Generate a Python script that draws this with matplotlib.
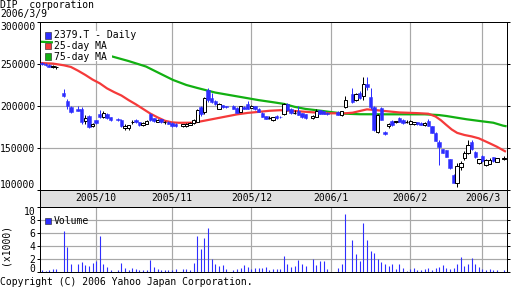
import matplotlib
matplotlib.use('Agg')
import matplotlib.pyplot as plt
from matplotlib.patches import Rectangle

# ---------------- data ----------------
title = 'DIP  corporation'
date_str = '2006/3/9'
ticker_label = '2379.T - Daily'

days = [0, 1, 2, 3, 4, 6, 7, 8, 10, 11, 12, 13, 14, 15, 16, 17, 18, 19, 21, 22, 23, 24, 25, 26, 27, 28,
        29, 30, 31, 32, 33, 34, 35, 36, 37, 39, 40, 41, 42, 43, 44, 45, 46, 47, 48, 49, 50, 51, 53, 54,
        55, 56, 57, 58, 59, 60, 61, 62, 63, 64, 65, 66, 67, 68, 69, 70, 71, 72, 73, 75, 76, 77, 78, 79,
        82, 83, 84, 86, 87, 88, 89, 90, 91, 92, 93, 94, 95, 96, 97, 98, 99, 100, 101, 102, 103, 104,
        105, 106, 107, 108, 109, 110, 111, 112, 113, 114, 115, 116, 117, 118, 119, 120, 121, 122, 123,
        124, 125, 126, 128]
opens = [251000, 250500, 248500, 246500, 246000, 215800, 206500, 199000, 196500, 196000, 182000, 188000,
         176000, 183000, 191000, 187500, 191000, 187000, 185000, 183500, 174000, 174000, 181000, 183500,
         181000, 177500, 178500, 190000, 185500, 181500, 184000, 181000, 181500, 180000, 179000, 176500,
         176500, 177500, 180000, 181500, 199000, 193000, 218500, 209000, 206000, 196500, 201000, 199500,
         200500, 197500, 193000, 198500, 202000, 198000, 199500, 197000, 192000, 187500, 186000, 183000,
         188000, 187500, 190000, 202500, 197000, 192000, 194500, 191500, 190000, 185500, 187000, 195000,
         193500, 192000, 193000, 189000, 199000, 214300, 207000, 216000, 211900, 226200, 211100, 199200,
         168600, 197200, 169400, 176200, 182200, 181000, 185300, 183300, 181400, 178600, 178000, 181000,
         180000, 177000, 182500, 176200, 168000, 157500, 148500, 147600, 136500, 117900, 108700, 127800,
         137700, 143600, 157500, 145600, 131700, 140900, 129800, 131000, 139000, 133800, 137500]
highs = [252500, 251500, 249500, 248500, 247500, 219800, 208000, 199500, 200000, 199200, 189300, 189300,
         180000, 183500, 195200, 194000, 192000, 187500, 185500, 184500, 179000, 177500, 183000, 184000,
         181500, 181000, 183000, 191500, 186000, 184500, 184500, 182500, 182000, 180500, 179500, 179000,
         180000, 181000, 184000, 197000, 200500, 211000, 221500, 215000, 207500, 203000, 201500, 200000,
         201500, 198500, 200500, 199500, 206000, 201500, 200500, 197500, 192500, 188000, 188000, 187500,
         189000, 188500, 203500, 204000, 197500, 195000, 200000, 192000, 190500, 189000, 197000, 195500,
         194000, 192500, 193500, 194500, 212000, 222000, 215000, 217500, 234900, 234900, 221000, 200000,
         190500, 199000, 170000, 180000, 183500, 182500, 187300, 184000, 183000, 183000, 181500, 181500,
         180500, 180500, 184000, 176500, 168500, 159000, 149000, 148000, 137000, 118500, 131700, 134000,
         146000, 159000, 160000, 146500, 137500, 141500, 136500, 137700, 139500, 138500, 140500]
lows = [249000, 248000, 246500, 245500, 243500, 210300, 196000, 191700, 193500, 178200, 178000, 174000,
        174800, 178200, 186000, 186000, 184000, 182000, 182000, 175000, 171500, 172000, 179000, 180000,
        176000, 176500, 178000, 182000, 181500, 180500, 180000, 179000, 178000, 175500, 175500, 175500,
        175500, 177000, 179000, 180500, 188000, 191000, 205000, 204000, 201500, 196000, 198000, 198000,
        196500, 191500, 192500, 196000, 196500, 197500, 195500, 192500, 187000, 184000, 184500, 182000,
        185000, 186000, 189000, 194000, 191000, 190500, 189000, 186000, 185000, 184500, 186500, 190500,
        190000, 189500, 189000, 188500, 197500, 204000, 206000, 208500, 207000, 219000, 197000, 170500,
        167500, 183000, 166000, 174000, 176500, 180000, 180500, 179000, 180000, 178000, 177500, 177500,
        177000, 176500, 176000, 167500, 158000, 129800, 144000, 139000, 125000, 107900, 104000, 124000,
        136000, 143000, 147500, 138000, 131000, 133500, 128000, 130500, 133500, 133000, 136000]
closes = [249500, 248500, 247000, 247500, 247000, 212300, 199500, 193000, 194500, 181500, 185500, 175000,
          179000, 179500, 187500, 192000, 186000, 183500, 183000, 176500, 176500, 177000, 181500, 180500,
          177000, 180000, 182000, 183500, 182500, 183500, 181000, 181000, 179000, 176500, 176500, 178500,
          179000, 180000, 183000, 195000, 190000, 209500, 207000, 205000, 202500, 202000, 198500, 198500,
          197000, 192000, 199500, 196500, 197000, 199500, 196000, 193000, 187500, 184500, 186000, 187000,
          185500, 186500, 202500, 195000, 191500, 192000, 189500, 186500, 185500, 188500, 193500, 191000,
          190500, 190000, 189500, 194000, 207000, 205200, 214000, 209000, 226200, 222200, 198400, 171400,
          189300, 183300, 166700, 178200, 177000, 182000, 181350, 179400, 181400, 182200, 181000, 178000,
          177500, 180000, 176500, 168000, 158700, 151600, 144500, 139700, 125800, 108700, 128600, 132500,
          143600, 153600, 148400, 138900, 136500, 134900, 135700, 136000, 134500, 137700, 138000]

vol_days = list(range(129))
vol_vals = [0.26, 0.15, 0.3, 0.5, 0.5, 0, 6.3, 3.9, 1.2, 0, 1.2, 1.5, 1.05, 0.9, 1.4, 1.7, 5.5, 1.2, 0.8, 0.26,
            0, 0.26, 1.4, 0.6, 0.37, 0.6, 0.5, 0.3, 0.3, 0.3, 1.8, 0.8, 0.5, 0.26, 0.26, 0.3, 0.3, 0.5, 0, 0.5,
            0.5, 0.26, 1.4, 5.6, 3.5, 5.2, 6.7, 2.05, 1.2, 0.95, 1.1, 0.4, 0, 0.26, 0.4, 0.6, 1.05, 0.8, 0.4, 0.6,
            0.6, 0.6, 0.7, 0.26, 0.45, 0.4, 0.4, 2.5, 1.2, 0.75, 0.9, 1.85, 1.2, 0.9, 0, 2.0, 1.05, 1.7, 1.7, 0.4,
            0, 0, 0.6, 1.2, 8.95, 0, 5.0, 2.8, 1.75, 7.5, 4.85, 3.25, 2.95, 2.0, 1.5, 1.25, 0.9, 1.2, 0.4, 1.2,
            0.6, 0.15, 0.4, 0.6, 0.26, 0.26, 0.4, 0.6, 0.26, 0.6, 0.75, 1.05, 0.6, 0.4, 0.6, 1.2, 2.3, 0.9, 1.2, 2.15,
            1.2, 0.75, 0.4, 0.26, 0.4, 0.26, 0.26, 0, 0.26]

ma25_days = [-0.5, 3, 6, 8, 10, 12, 14, 16, 18, 20, 22, 24, 26, 28, 30, 32, 34, 36, 38, 42, 45, 48, 51, 54,
             57, 60, 63, 66, 70, 75, 79, 84, 86, 88, 90, 92, 95, 99, 104, 107, 109, 110.5, 112, 113.5, 115,
             117, 119, 121, 124, 126, 128.5]
ma25_vals = [251200, 250500, 248500, 246500, 242000, 237000, 231500, 227000, 221000, 216500, 212500, 207000,
             202000, 196500, 191000, 186500, 182500, 180500, 180000, 180100, 182500, 185000, 187500, 190000,
             191800, 193000, 194300, 195000, 194000, 192500, 191300, 191300, 192000, 194000, 196000, 195300,
             194000, 192300, 191500, 190800, 187500, 183000, 177400, 172000, 168000, 165500, 163800, 161500,
             155600, 151500, 145500]
ma75_days = [-0.5, 3, 10, 15, 18.8, 24, 28.8, 33, 36.3, 40, 43, 48, 52, 56, 60, 64, 67, 70, 73, 76, 80, 84,
             88, 96, 106, 110, 112, 115, 117.6, 121.3, 125, 127.7, 128.7]
ma75_vals = [276500, 275800, 268500, 264000, 259700, 253500, 247000, 238000, 231000, 225000, 221500, 216000,
             213000, 210000, 207000, 204500, 202500, 199000, 196500, 195000, 192800, 190800, 190200, 190100,
             190100, 189200, 188100, 186000, 184200, 182100, 180100, 176600, 175800]

month_pos = [15, 36, 58, 80, 102, 122]
month_labels = ['2005/10', '2005/11', '2005/12', '2006/1', '2006/2', '2006/3']
price_ticks = [100000, 150000, 200000, 250000, 300000]
vol_ticks = [0, 2, 4, 6, 8, 10]

# ---------------- style ----------------
BLUE = '#2e2eff'
RED = '#f53a3a'
GREEN = '#12b012'
GRID = '#a8a8a8'
BAND = '#e0e0e0'
FONT = 'DejaVu Sans Mono'
FS = 7
W, H = 512, 288
PX = 0.72

plt.rcParams['font.family'] = FONT
fig = plt.figure(figsize=(W / 100, H / 100), dpi=100)
fig.patch.set_facecolor('white')


def ax_px(l, t, r, b):
    return fig.add_axes([l / W, 1 - b / H, (r - l) / W, (b - t) / H])


ax = ax_px(40, 22, 507, 190)
band = ax_px(40, 190, 507, 207)
axv = ax_px(40, 207, 507, 272)
XL = (-0.55, 128.8)

for a in (ax, band, axv):
    a.set_xlim(*XL)
    for s in a.spines.values():
        s.set_linewidth(1.0 * PX)
        s.set_color('black')

# main price panel
ax.set_ylim(100000, 300000)
ax.set_yticks(price_ticks)
ax.set_yticklabels([str(v) for v in price_ticks], fontsize=FS)
ax.tick_params(axis='y', left=True, right=True, direction='out', length=2.5, width=PX, pad=1)
ax.set_xticks([])
tl = ax.get_yticklabels()
tl[0].set_va('bottom')
tl[-1].set_va('top')
for v in [150000, 200000, 250000]:
    ax.axhline(v, color=GRID, lw=PX * 1.2, zorder=0)
for m in month_pos:
    ax.axvline(m, color=GRID, lw=PX * 1.2, zorder=0)

# moving averages
ax.plot(ma75_days, ma75_vals, color=GREEN, lw=1.6, zorder=1, solid_capstyle='butt')
ax.plot(ma25_days, ma25_vals, color=RED, lw=1.6, zorder=1, solid_capstyle='butt')

# candles
bw = 0.95
for d, o, h, l, c in zip(days, opens, highs, lows, closes):
    up = c >= o
    wc = 'black' if up else BLUE
    ax.vlines(d, l, h, color=wc, lw=PX, zorder=2)
    lo, hi = min(o, c), max(o, c)
    if hi - lo < 400:
        ax.hlines((o + c) / 2, d - bw / 2, d + bw / 2, color=wc, lw=PX * 1.2, zorder=3)
        continue
    if up:
        ax.add_patch(Rectangle((d - bw / 2, lo), bw, hi - lo, facecolor='white',
                               edgecolor='black', lw=PX, zorder=3))
    else:
        ax.add_patch(Rectangle((d - bw / 2, lo), bw, hi - lo, facecolor=BLUE,
                               edgecolor=BLUE, lw=PX * 0.5, zorder=3))

# date band
band.set_facecolor(BAND)
band.set_ylim(0, 1)
band.set_xticks([])
band.set_yticks([])
for m, lab in zip(month_pos, month_labels):
    band.text(m, 0.5, lab, ha='center', va='center', fontsize=FS)

# volume panel
axv.set_ylim(0, 10)
axv.set_yticks(vol_ticks)
axv.set_yticklabels([str(v) for v in vol_ticks], fontsize=FS)
axv.tick_params(axis='y', left=True, right=True, direction='out', length=2.5, width=PX, pad=1)
axv.set_xticks([])
vl = axv.get_yticklabels()
vl[0].set_va('baseline')
vl[-1].set_va('top')
for v in [2, 4, 6, 8]:
    axv.axhline(v, color=GRID, lw=PX * 1.2, zorder=0)
for m in month_pos:
    axv.axvline(m, color=GRID, lw=PX * 1.2, zorder=0)
axv.vlines([d for d, v in zip(vol_days, vol_vals) if v > 0],
           0, [v for v in vol_vals if v > 0], color=BLUE, lw=PX * 1.1, zorder=2)

# ---------------- texts / legends ----------------
def ftext(x, y, s, **kw):
    return fig.text(x / W, 1 - y / H, s, fontsize=FS, **kw)


ftext(0, 5.5, title, va='center', ha='left')
ftext(0, 14.5, date_str, va='center', ha='left')
ftext(0, 282, 'Copyright (C) 2006 Yahoo Japan Corporation.', va='center', ha='left')
ftext(6, 244, '(x1000)', va='center', ha='center', rotation=90)

# legend background
fig.patches.append(Rectangle((53 / W, 1 - 61 / H), (112 - 53) / W, 30 / H, transform=fig.transFigure,
                             facecolor='white', edgecolor='none', zorder=2))
for yy, col, lab in [(35.5, BLUE, ticker_label), (46, RED, '25-day MA'), (56.5, GREEN, '75-day MA')]:
    fig.patches.append(Rectangle((45 / W, 1 - (yy + 3) / H), 6 / W, 6 / H, transform=fig.transFigure,
                                 facecolor=col, edgecolor='#202020', lw=0.4, zorder=3))
    ftext(54, yy, lab, va='center', ha='left', zorder=4)

fig.patches.append(Rectangle((45 / W, 1 - 224 / H), 6 / W, 6 / H, transform=fig.transFigure,
                             facecolor=BLUE, edgecolor='#202020', lw=0.4, zorder=3))
ftext(54, 221, 'Volume', va='center', ha='left', zorder=4)

fig.savefig('out.png', dpi=100, facecolor='white')
